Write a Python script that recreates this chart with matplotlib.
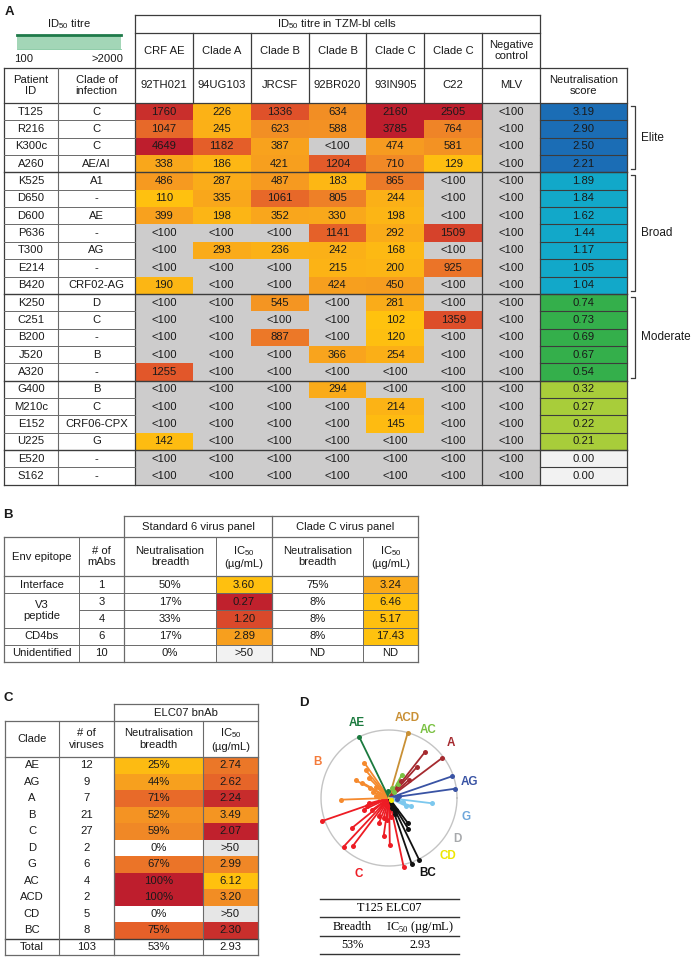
import numpy as np
import matplotlib
matplotlib.use('Agg')
import matplotlib.pyplot as plt
from matplotlib.patches import Rectangle
from matplotlib.colors import LinearSegmentedColormap, FuncNorm, Normalize

plt.rcParams['font.family'] = ['Liberation Sans', 'DejaVu Sans']

# ---------------- data : panel A ----------------
patients = ["T125", "R216", "K300c", "A260", "K525", "D650", "D600", "P636", "T300", "E214", "B420",
            "K250", "C251", "B200", "J520", "A320", "G400", "M210c", "E152", "U225", "E520", "S162"]
infection_clades = ["C", "C", "C", "AE/AI", "A1", "-", "AE", "-", "AG", "-", "CRF02-AG",
                    "D", "C", "-", "B", "-", "B", "C", "CRF06-CPX", "G", "-", "-"]
virus_clades = ["CRF AE", "Clade A", "Clade B", "Clade B", "Clade C", "Clade C", "Negative\ncontrol"]
virus_names = ["92TH021", "94UG103", "JRCSF", "92BR020", "93IN905", "C22", "MLV"]
N = None  # <100
titres = [
    [1760, 226, 1336, 634, 2160, 2505, N],
    [1047, 245, 623, 588, 3785, 764, N],
    [4649, 1182, 387, N, 474, 581, N],
    [338, 186, 421, 1204, 710, 129, N],
    [486, 287, 487, 183, 865, N, N],
    [110, 335, 1061, 805, 244, N, N],
    [399, 198, 352, 330, 198, N, N],
    [N, N, N, 1141, 292, 1509, N],
    [N, 293, 236, 242, 168, N, N],
    [N, N, N, 215, 200, 925, N],
    [190, N, N, 424, 450, N, N],
    [N, N, 545, N, 281, N, N],
    [N, N, N, N, 102, 1359, N],
    [N, N, 887, N, 120, N, N],
    [N, N, N, 366, 254, N, N],
    [1255, N, N, N, N, N, N],
    [N, N, N, 294, N, N, N],
    [N, N, N, N, 214, N, N],
    [N, N, N, N, 145, N, N],
    [142, N, N, N, N, N, N],
    [N, N, N, N, N, N, N],
    [N, N, N, N, N, N, N],
]
scores = [3.19, 2.90, 2.50, 2.21, 1.89, 1.84, 1.62, 1.44, 1.17, 1.05, 1.04,
          0.74, 0.73, 0.69, 0.67, 0.54, 0.32, 0.27, 0.22, 0.21, 0.00, 0.00]
group_labels = ["Elite", "Broad", "Moderate", "", ""]
group_sizes = [4, 7, 5, 4, 2]

# ---------------- data : panel B ----------------
epitopes = ["Interface", "V3\npeptide", "CD4bs", "Unidentified"]
epitope_spans = [1, 2, 1, 1]
n_mabs = [1, 3, 4, 6, 10]
std_breadth = ["50%", "17%", "33%", "17%", "0%"]
std_ic50 = [3.60, 0.27, 1.20, 2.89, None]
cc_breadth = ["75%", "8%", "8%", "8%", "ND"]
cc_ic50 = [3.24, 6.46, 5.17, 17.43, None]

# ---------------- data : panel C ----------------
c_clades = ["AE", "AG", "A", "B", "C", "D", "G", "AC", "ACD", "CD", "BC"]
c_nvir = [12, 9, 7, 21, 27, 2, 6, 4, 2, 5, 8]
c_breadth = [25, 44, 71, 52, 59, 0, 67, 100, 100, 0, 75]
c_ic50 = [2.74, 2.62, 2.24, 3.49, 2.07, None, 2.99, 6.12, 3.20, None, 2.30]
c_total = ["Total", "103", "53%", "2.93"]

# ---------------- data : panel D (angle deg, length rel. to circle) ----------------
d_clades = ["C", "BC", "B", "AE", "ACD", "AC", "A", "AG", "G", "D", "CD"]
d_angles = [
    [199, 227, 233, 219, 248, 262, 271, 282, 205, 200, 195, 215, 240, 255, 265, 275],
    [-64, -71, -58, -53, -68, -60, -75],
    [182, 125, 152, 150, 135, 130, 152, 160, 170, 140, 175],
    [116, 97],
    [74, 60],
    [61, 58, 70, 50],
    [52, 37, 48, 42, 55],
    [19, 8, 12, -5],
    [-7, -20, -25, -15],
    [-30],
    [-45],
]
d_lengths = [
    [1.04, 0.98, 0.89, 0.70, 0.40, 0.56, 0.69, 1.03, 0.41, 0.35, 0.30, 0.30, 0.30, 0.30, 0.32, 0.28],
    [1.02, 1.02, 0.53, 0.46, 0.25, 0.20, 0.15],
    [0.70, 0.63, 0.55, 0.45, 0.42, 0.53, 0.32, 0.25, 0.20, 0.25, 0.15],
    [1.00, 0.11],
    [1.00, 0.12],
    [0.38, 0.25, 0.15, 0.12],
    [0.85, 0.98, 0.61, 0.40, 0.30],
    [0.98, 0.98, 0.15, 0.12],
    [0.63, 0.35, 0.27, 0.22],
    [0.03],
    [0.04],
]
d_table_header = "T125 ELC07"
d_table_cols = ["Breadth", r"IC$_{\mathregular{50}}$ (µg/mL)"]
d_table_vals = ["53%", "2.93"]

# ---------------- styles ----------------
d_colors = {"C": "#ED1C24", "BC": "#111111", "B": "#F58A2E", "AE": "#1B7A3E", "ACD": "#C99035",
            "AC": "#7AC143", "A": "#A52A2F", "AG": "#3953A4", "G": "#7CC8EE", "D": "#A7A9AC",
            "CD": "#F2EB00"}
d_label_colors = {"C": "#ED1C24", "BC": "#111111", "B": "#F47B3A", "AE": "#1B7A3E", "ACD": "#C99035",
                  "AC": "#7AC143", "A": "#A52A2F", "AG": "#3953A4", "G": "#6EA6DA", "D": "#A7A9AC",
                  "CD": "#EEE600"}
d_label_angle = {"C": -112, "BC": -63, "B": 153, "AE": 113, "ACD": 77, "AC": 60, "A": 41.6,
                 "AG": 11, "G": -14, "D": -31, "CD": -44.5}
d_label_r = {"C": 1.2, "BC": 1.24, "B": 1.18, "AE": 1.2, "ACD": 1.21, "AC": 1.16, "A": 1.22,
             "AG": 1.21, "G": 1.17, "D": 1.18, "CD": 1.22}

heat = LinearSegmentedColormap.from_list(
    "heat", [(0, "#FFC20E"), (0.25, "#F9A61C"), (0.5, "#F08627"), (0.75, "#E1542A"), (1, "#BE1E2D")])
norm_a = FuncNorm((np.sqrt, np.square), vmin=100, vmax=2000, clip=True)
norm_c_breadth = Normalize(vmin=20, vmax=100, clip=True)
c_ic50_scale = ([2.0, 2.3, 2.6, 2.8, 3.5, 6.2], [1.0, 0.92, 0.68, 0.53, 0.38, 0.0])
b_ic50_scale = ([0.2, 1.2, 2.9, 3.3, 3.6, 20], [1.0, 0.8, 0.3, 0.2, 0.02, 0.0])
score_colors = ["#1B6DB5", "#12A8C9", "#34AF4B", "#A8CD3A", "#F2F2F2"]
GREY_NA = "#CDCCCC"

FS = 8.1
DARK = "#3C3C3C"
MID = "#6A6A6A"

fig = plt.figure(figsize=(6.95, 9.59), dpi=100)
ax = fig.add_axes([0, 0, 1, 1])
ax.set_xlim(0, 695)
ax.set_ylim(959, 0)
ax.axis('off')


def rect(x0, y0, x1, y1, fc, z=1):
    ax.add_patch(Rectangle((x0, y0), x1 - x0, y1 - y0, facecolor=fc, edgecolor='none', zorder=z))


def hl(y, x0, x1, c=DARK, lw=0.9):
    ax.plot([x0, x1], [y, y], color=c, lw=lw, solid_capstyle='projecting', zorder=3)


def vl(x, y0, y1, c=DARK, lw=0.9):
    ax.plot([x, x], [y0, y1], color=c, lw=lw, solid_capstyle='projecting', zorder=3)


def tx(x, y, s, size=FS, ha='center', color='#1A1A1A', **kw):
    ax.text(x, y, s, fontsize=size, ha=ha, va='center', color=color, zorder=4,
            linespacing=1.2, **kw)


# ================= Panel A =================
tx(9, 12, "A", size=9.5, weight='bold')
tx(69, 24, r"ID$_{\mathregular{50}}$ titre")
rect(17, 35, 121, 48.5, "#A3D6B7")
hl(34.5, 17, 121, c="#1F7A4A", lw=2.0)
hl(48.5, 17, 121, c="#7CC49A", lw=0.6)
tx(14, 59, "100", ha='left')
tx(123, 59, ">2000", ha='right')

ax0 = 135.0
colw = (540.0 - 135.0) / len(virus_names)
col_x = [ax0 + i * colw for i in range(len(virus_names) + 1)]
xs_pat, xs_cl, xs_sc = 4.0, 58.0, 627.0
h1, h2, h3, h4 = 15.0, 33.0, 68.0, 103.0
rh = 17.35
nrows = len(patients)
ybot = h4 + nrows * rh

# header rows
tx((col_x[0] + col_x[-1]) / 2, (h1 + h2) / 2, r"ID$_{\mathregular{50}}$ titre in TZM-bl cells")
for i, name in enumerate(virus_clades):
    tx((col_x[i] + col_x[i + 1]) / 2, (h2 + h3) / 2, name)
for i, name in enumerate(virus_names):
    tx((col_x[i] + col_x[i + 1]) / 2, (h3 + h4) / 2, name)
tx((xs_pat + xs_cl) / 2, (h3 + h4) / 2, "Patient\nID")
tx((xs_cl + ax0) / 2, (h3 + h4) / 2, "Clade of\ninfection")
tx((col_x[-1] + xs_sc) / 2, (h3 + h4) / 2, "Neutralisation\nscore")

# data cells
for r in range(nrows):
    yt = h4 + r * rh
    yc = yt + rh / 2
    tx((xs_pat + xs_cl) / 2, yc, patients[r])
    tx((xs_cl + ax0) / 2, yc, infection_clades[r])
    for c in range(len(virus_names)):
        v = titres[r][c]
        fc = GREY_NA if v is None else heat(norm_a(v))
        rect(col_x[c], yt, col_x[c + 1], yt + rh, fc)
        tx((col_x[c] + col_x[c + 1]) / 2, yc, "<100" if v is None else str(v))

# score column
gstart = 0
for g, size in enumerate(group_sizes):
    for r in range(gstart, gstart + size):
        yt = h4 + r * rh
        rect(col_x[-1], yt, xs_sc, yt + rh, score_colors[g])
        tx((col_x[-1] + xs_sc) / 2, yt + rh / 2, f"{scores[r]:.2f}")
    if group_labels[g]:
        y_a = h4 + gstart * rh + 3
        y_b = h4 + (gstart + size) * rh - 3
        ax.plot([631, 635, 635, 631], [y_a, y_a, y_b, y_b], color=DARK, lw=0.9, zorder=3)
        tx(641, (y_a + y_b) / 2, group_labels[g], ha='left', size=8.5)
    gstart += size

# lines panel A
hl(h1, col_x[0], col_x[-1])
hl(h2, col_x[0], col_x[-1])
hl(h3, xs_pat, col_x[-1])
vl(col_x[0], h1, ybot)
vl(col_x[-1], h1, ybot)
for x in col_x[1:-1]:
    vl(x, h2, h4)
hl(h3, col_x[-1], xs_sc)
hl(h4, xs_pat, xs_sc)
vl(xs_pat, h3, ybot)
vl(xs_cl, h3, ybot, c=MID, lw=0.8)
vl(xs_sc, h3, ybot)
vl(col_x[-2], h4, ybot)
for r in range(1, nrows):
    y = h4 + r * rh
    hl(y, xs_pat, ax0, c=MID, lw=0.7)
    hl(y, col_x[-1], xs_sc, c=DARK, lw=0.8)
gstart = 0
for size in group_sizes[:-1]:
    gstart += size
    hl(h4 + gstart * rh, xs_pat, xs_sc, c=DARK, lw=1.0)
hl(ybot, xs_pat, xs_sc)

# ================= Panel B =================
tx(8, 515, "B", size=9.5, weight='bold')
bx = [4, 79, 124, 216, 272, 363, 418]
b1, b2, b3 = 516.0, 537.0, 576.0
brh = 17.2
bn = len(n_mabs)
bbot = b3 + bn * brh
tx((bx[2] + bx[4]) / 2, (b1 + b2) / 2, "Standard 6 virus panel")
tx((bx[4] + bx[6]) / 2, (b1 + b2) / 2, "Clade C virus panel")
b_heads = ["Env epitope", "# of\nmAbs", "Neutralisation\nbreadth", "IC$_{\\mathregular{50}}$\n(µg/mL)",
           "Neutralisation\nbreadth", "IC$_{\\mathregular{50}}$\n(µg/mL)"]
for i, hname in enumerate(b_heads):
    tx((bx[i] + bx[i + 1]) / 2, (b2 + b3) / 2, hname)


def b_color(v):
    return heat(np.interp(v, b_ic50_scale[0], b_ic50_scale[1]))


for r in range(bn):
    yt = b3 + r * brh
    yc = yt + brh / 2
    tx((bx[1] + bx[2]) / 2, yc, str(n_mabs[r]))
    tx((bx[2] + bx[3]) / 2, yc, std_breadth[r])
    v = std_ic50[r]
    rect(bx[3], yt, bx[4], yt + brh, "#F2F2F2" if v is None else b_color(v))
    tx((bx[3] + bx[4]) / 2, yc, ">50" if v is None else f"{v:.2f}")
    tx((bx[4] + bx[5]) / 2, yc, cc_breadth[r])
    v = cc_ic50[r]
    if v is not None:
        rect(bx[5], yt, bx[6], yt + brh, b_color(v))
    tx((bx[5] + bx[6]) / 2, yc, "ND" if v is None else f"{v:.2f}")
rr = 0
for e, span in zip(epitopes, epitope_spans):
    tx((bx[0] + bx[1]) / 2, b3 + (rr + span / 2) * brh, e)
    for k in range(1, span):
        hl(b3 + (rr + k) * brh, bx[1], bx[6], c=MID, lw=0.7)
    if rr > 0:
        hl(b3 + rr * brh, bx[0], bx[6], c=MID, lw=0.7)
    rr += span
hl(b1, bx[2], bx[6], c=MID)
hl(b2, bx[0], bx[6], c=MID)
hl(b3, bx[0], bx[6], c=MID)
hl(bbot, bx[0], bx[6], c=MID)
vl(bx[0], b2, bbot, c=MID)
vl(bx[1], b2, bbot, c=MID, lw=0.7)
vl(bx[2], b1, bbot, c=MID)
vl(bx[3], b2, bbot, c=MID, lw=0.7)
vl(bx[4], b1, bbot, c=MID)
vl(bx[5], b2, bbot, c=MID, lw=0.7)
vl(bx[6], b1, bbot, c=MID)

# ================= Panel C =================
tx(8, 698, "C", size=9.5, weight='bold')
cx = [5, 59, 114, 203, 258]
c1, c2, c3 = 704.0, 721.0, 757.0
crh = 16.5
cn = len(c_clades)
ctot = c3 + cn * crh
cbot = ctot + crh
tx((cx[2] + cx[4]) / 2, (c1 + c2) / 2, "ELC07 bnAb")
c_heads = ["Clade", "# of\nviruses", "Neutralisation\nbreadth", "IC$_{\\mathregular{50}}$\n(µg/mL)"]
for i, hname in enumerate(c_heads):
    tx((cx[i] + cx[i + 1]) / 2, (c2 + c3) / 2, hname)
for r in range(cn):
    yt = c3 + r * crh
    yc = yt + crh / 2
    tx((cx[0] + cx[1]) / 2, yc, c_clades[r])
    tx((cx[1] + cx[2]) / 2, yc, str(c_nvir[r]))
    b = c_breadth[r]
    if b > 0:
        rect(cx[2], yt, cx[3], yt + crh, heat(norm_c_breadth(b)))
    tx((cx[2] + cx[3]) / 2, yc, f"{b}%")
    v = c_ic50[r]
    fc = "#E6E6E6" if v is None else heat(np.interp(v, c_ic50_scale[0], c_ic50_scale[1]))
    rect(cx[3], yt, cx[4], yt + crh, fc)
    tx((cx[3] + cx[4]) / 2, yc, ">50" if v is None else f"{v:.2f}")
for i, s in enumerate(c_total):
    tx((cx[i] + cx[i + 1]) / 2, ctot + crh / 2, s)
hl(c1, cx[2], cx[4], c=MID)
hl(c2, cx[0], cx[4], c=MID)
hl(c3, cx[0], cx[4], c=MID)
hl(ctot, cx[0], cx[4], c=DARK, lw=1.0)
hl(cbot, cx[0], cx[4], c=MID)
vl(cx[0], c2, cbot, c=MID)
vl(cx[1], c2, cbot, c=MID, lw=0.8)
vl(cx[2], c1, cbot, c=MID)
vl(cx[3], c2, cbot, c=MID, lw=0.8)
vl(cx[4], c1, cbot, c=MID)

# ================= Panel D =================
tx(304, 703, "D", size=9.5, weight='bold')
cen_x, cen_y, R = 389.0, 798.0, 68.0
rmax = 1.3
half = R * rmax
axd = fig.add_axes([(cen_x - half) / 695, 1 - (cen_y + half) / 959, 2 * half / 695, 2 * half / 959],
                   projection='polar')
axd.set_facecolor('none')
axd.set_ylim(0, rmax)
axd.axis('off')
th = np.linspace(0, 2 * np.pi, 400)
axd.plot(th, np.ones_like(th), color='#C4C4C4', lw=1.0, zorder=1)
axd.plot(th, np.full_like(th, 0.075), color='#B0B0B0', lw=0.8, zorder=1)
for name, angs, lens in zip(d_clades, d_angles, d_lengths):
    col = d_colors[name]
    for a, l in zip(angs, lens):
        t = np.deg2rad(a)
        axd.plot([t, t], [0, l], color=col, lw=1.3, zorder=2, solid_capstyle='round')
        axd.plot([t], [l], 'o', color=col, ms=3.6, zorder=3, markeredgewidth=0)
for name in d_clades:
    axd.text(np.deg2rad(d_label_angle[name]), d_label_r[name], name, color=d_label_colors[name],
             fontsize=8.4, fontweight='bold', ha='center', va='center', clip_on=False)

# table under D (serif)
serif = ['Liberation Serif', 'DejaVu Serif']
tl, tr = 320, 459
for y in [899, 917, 936, 954]:
    hl(y, tl, tr, c='#333333', lw=1.0)
ax.text((tl + tr) / 2, 908, d_table_header, fontsize=8.8, family=serif, ha='center', va='center')
for xcen, s in zip([352, 420], d_table_cols):
    ax.text(xcen, 927, s, fontsize=8.8, family=serif, ha='center', va='center')
for xcen, s in zip([352, 420], d_table_vals):
    ax.text(xcen, 945, s, fontsize=8.8, family=serif, ha='center', va='center')

fig.savefig("out.png", dpi=100)
